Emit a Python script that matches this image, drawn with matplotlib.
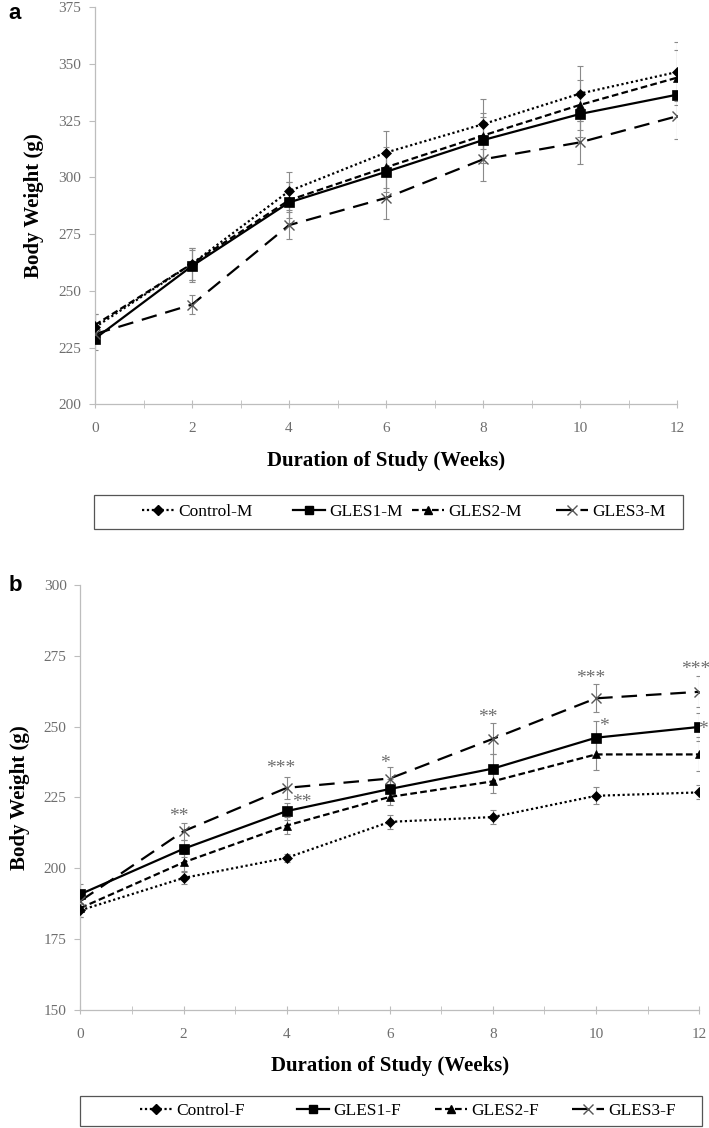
import numpy as np
import matplotlib
matplotlib.use("Agg")
import matplotlib.pyplot as plt
from matplotlib.lines import Line2D
from matplotlib.patches import Rectangle

weeks = [0, 2, 4, 6, 8, 10, 12]

# panel a - males
ctrl_m = [234, 262, 294, 311, 323.5, 337, 346.5]
gles1_m = [229, 261, 289, 302.5, 316.5, 328, 336.5]
gles2_m = [235, 262, 290, 304.5, 318.5, 332, 344]
gles3_m = [231, 244, 279, 291, 308, 315.5, 327]
ctrl_m_err = [6, 7, 8.5, 9.5, 11, 12, 13]
gles1_m_err = [5, 7, 9, 9, 10, 10, 10]
gles2_m_err = [5, 7, 8, 9, 10, 11, 12]
gles3_m_err = [4, 4, 6, 9.5, 9.5, 9.5, 10]

# panel b - females
ctrl_f = [185.2, 196.6, 203.7, 216.4, 218.1, 225.6, 226.8]
gles1_f = [190.9, 206.9, 220.2, 228.0, 235.2, 246.1, 249.9]
gles2_f = [186.0, 202.1, 215.1, 225.2, 230.7, 240.2, 240.2]
gles3_f = [188.5, 213.1, 228.4, 231.7, 245.7, 260.0, 262.3]
ctrl_f_err = [2.5, 2, 1.5, 2.5, 2.5, 3, 2.5]
gles1_f_err = [3.5, 3, 3, 3.5, 5, 6, 5]
gles2_f_err = [3, 3, 3, 3, 4, 5.5, 6]
gles3_f_err = [3, 3, 4, 4, 5.5, 5, 5.5]

# significance marks (x, y, text)
sig_x = [1.9, 3.88, 4.3, 5.9, 7.9, 9.9, 10.15, 11.93, 12.08]
sig_y = [219.9, 237.0, 224.7, 238.5, 255.0, 268.6, 251.7, 271.6, 250.5]
sig_txt = ["**", "***", "**", "*", "**", "***", "*", "***", "*"]

SERIF = "Liberation Serif"
GRAY_AX = "#bdbdbd"
GRAY_TXT = "#6e6e6e"

styles = [
    dict(ls=(0, (1, 1.2)), marker="D", ms=5.5),
    dict(ls="-", marker="s", ms=6.5),
    dict(ls=(0, (3, 1.5)), marker="^", ms=6),
    dict(ls=(0, (7, 4)), marker="x", ms=7),
]


def draw_panel(ax, series, errs, ylim, yticks):
    for ys, es, st in zip(series, errs, styles):
        ax.errorbar(weeks, ys, yerr=es, fmt="none", ecolor="#8a8a8a",
                    elinewidth=0.8, capsize=2.5, capthick=0.8, zorder=2)
        ax.plot(weeks, ys, color="black", lw=1.6, linestyle=st["ls"],
                marker=st["marker"], ms=st["ms"], mew=1.0 if st["marker"] == "x" else 0.5,
                mec="black" if st["marker"] != "x" else "#555555",
                mfc="black", zorder=3)
    ax.set_xlim(0, 12)
    ax.set_ylim(*ylim)
    ax.set_yticks(yticks)
    ax.set_xticks([0, 2, 4, 6, 8, 10, 12])
    ax.set_xticks(range(13), minor=True)
    for s in ["top", "right"]:
        ax.spines[s].set_visible(False)
    for s in ["left", "bottom"]:
        ax.spines[s].set_color(GRAY_AX)
        ax.spines[s].set_linewidth(0.9)
    ax.tick_params(axis="x", which="both", direction="inout", length=6,
                   color=GRAY_AX, labelcolor=GRAY_TXT, labelsize=11, pad=10)
    ax.tick_params(axis="y", direction="out", length=4, color=GRAY_AX,
                   labelcolor=GRAY_TXT, labelsize=11, pad=6)
    for lab in ax.get_xticklabels() + ax.get_yticklabels():
        lab.set_family(SERIF)
    ax.set_xlabel("Duration of Study (Weeks)", family=SERIF, fontweight="bold",
                  fontsize=15, labelpad=11)
    ax.set_ylabel("Body Weight (g)", family=SERIF, fontweight="bold",
                  fontsize=15, labelpad=10)


def add_legend(fig, labels, box, xs):
    # frame spans the whole box, entries sit at their own x positions
    x0, y0, w, h = box
    fig.patches.append(Rectangle((x0, y0), w, h, transform=fig.transFigure,
                                 fill=False, edgecolor="#555555", lw=0.9))
    for st, lab, xe in zip(styles, labels, xs):
        hnd = Line2D([], [], color="black", lw=1.6, linestyle=st["ls"],
                     marker=st["marker"], ms=st["ms"] - 0.5, mfc="black",
                     mec="black" if st["marker"] != "x" else "#555555")
        fig.legend([hnd], [lab], loc="center left",
                   bbox_to_anchor=(xe, y0 + h / 2), frameon=False,
                   handlelength=1.85, handletextpad=0.25, borderaxespad=0,
                   borderpad=0, prop={"family": SERIF, "size": 12.5})


fig = plt.figure(figsize=(7.09, 11.28), dpi=100)

ax_a = fig.add_axes([0.134, 0.6415, 0.821, 0.352])
draw_panel(ax_a, [ctrl_m, gles1_m, gles2_m, gles3_m],
           [ctrl_m_err, gles1_m_err, gles2_m_err, gles3_m_err],
           (200, 375), [200, 225, 250, 275, 300, 325, 350, 375])

ax_b = fig.add_axes([0.1135, 0.1046, 0.8725, 0.3768])
draw_panel(ax_b, [ctrl_f, gles1_f, gles2_f, gles3_f],
           [ctrl_f_err, gles1_f_err, gles2_f_err, gles3_f_err],
           (150, 300), [150, 175, 200, 225, 250, 275, 300])
for x, y, t in zip(sig_x, sig_y, sig_txt):
    ax_b.text(x, y - 1.6, t, family=SERIF, fontsize=14, color=GRAY_TXT,
              ha="center", va="center", clip_on=False)

add_legend(fig, ["Control-M", "GLES1-M", "GLES2-M", "GLES3-M"],
           (0.1326, 0.531, 0.831, 0.030),
           [142 / 709, 293 / 709, 412 / 709, 556 / 709])
add_legend(fig, ["Control-F", "GLES1-F", "GLES2-F", "GLES3-F"],
           (0.113, 0.0018, 0.877, 0.0266),
           [140 / 709, 297 / 709, 435 / 709, 572 / 709])

fig.text(0.012, 0.988, "a", family="Liberation Sans", fontweight="bold",
         fontsize=16, va="center")
fig.text(0.012, 0.481, "b", family="Liberation Sans", fontweight="bold",
         fontsize=16, va="center")

fig.savefig("out.png", dpi=100)
